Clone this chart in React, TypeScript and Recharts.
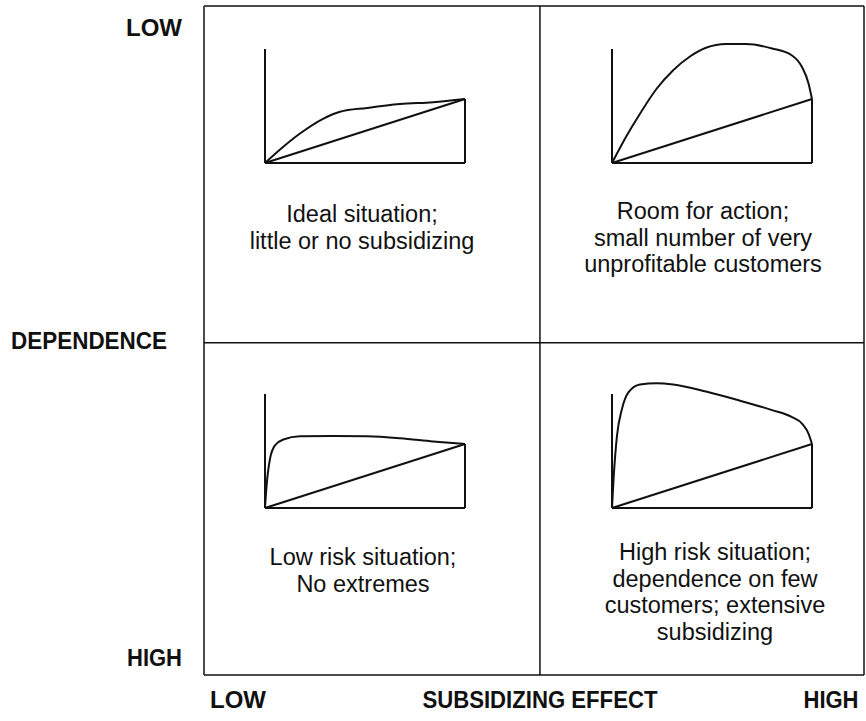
import React from 'react';
import { LineChart, Line, XAxis, YAxis, ReferenceLine } from 'recharts';

// Stobachoff-type curves, x = % of customers, y = % of total profit (end = 100)
const idealX = [0, 9, 17.5, 29, 37.5, 51, 67.5, 84, 100];
const idealY = [0, 25, 46, 69, 80, 86, 92, 95, 100];

const actionX = [0, 7.4, 14, 22.3, 30.6, 38.8, 47, 57, 67, 80, 90, 95, 98.3, 100];
const actionY = [0, 43, 77, 116, 145, 166, 180, 186, 186, 179, 168, 150, 124, 100];

const lowRiskX = [0, 0.8, 2.5, 5, 9.2, 17.5, 34, 51, 67.5, 84, 100];
const lowRiskY = [0, 35, 77, 98, 107, 112, 112.5, 112, 109, 104, 100];

const highRiskX = [0, 0.8, 2.5, 5, 8.3, 14, 22.3, 30.6, 47, 63.6, 80, 90, 95, 98.3, 100];
const highRiskY = [0, 46, 113, 155, 181, 193, 195, 193, 182, 168, 153, 142, 132, 116, 100];

// straight reference line (revenue)
const diagX = [0, 100];
const diagY = [0, 100];

const idealText = ['Ideal situation;', 'little or no subsidizing'];
const actionText = ['Room for action;', 'small number of very', 'unprofitable customers'];
const lowRiskText = ['Low risk situation;', 'No extremes'];
const highRiskText = ['High risk situation;', 'dependence on few', 'customers; extensive', 'subsidizing'];

const dependenceLabels = ['HIGH', 'DEPENDENCE', 'LOW'];
const dependenceValues = [0.051, 1, 1.937];
const subsidizingLabels = ['LOW', 'SUBSIDIZING EFFECT', 'HIGH'];
const subsidizingValues = [0.103, 1.018, 1.9];

// quadrant dividers (the matrix is slightly off-centre in the original)
const dividerX = 1.018;
const dividerY = 0.993;

const INK = '#111';
const FONT = '"Liberation Sans", Arial, sans-serif';

// text widths to mimic the squeezed lettering of the original
const labelWidth: Record<string, number> = {
  LOW: 56,
  DEPENDENCE: 156,
  HIGH: 55,
  'SUBSIDIZING EFFECT': 235,
};

function DepTick(props: any) {
  const { x, y, index } = props;
  const text = dependenceLabels[index];
  const right = text === 'DEPENDENCE' ? x - 29 : x - 14;
  return (
    <text x={right} y={y} dy="0.355em" textAnchor="end" fontFamily={FONT} fontWeight="bold"
      fontSize={24} fill={INK} textLength={labelWidth[text]} lengthAdjust="spacingAndGlyphs">
      {text}
    </text>
  );
}

function SubTick(props: any) {
  const { x, y, index } = props;
  const text = subsidizingLabels[index];
  return (
    <text x={x} y={y + 25} textAnchor="middle" fontFamily={FONT} fontWeight="bold"
      fontSize={24} fill={INK} textLength={labelWidth[text]} lengthAdjust="spacingAndGlyphs">
      {text}
    </text>
  );
}

function MiniChart({ xs, ys, left, top }: { xs: number[]; ys: number[]; left: number; top: number }) {
  const curve = xs.map((x, i) => ({ x, y: ys[i] }));
  const diag = diagX.map((x, i) => ({ x, y: diagY[i] }));
  return (
    <div style={{ position: 'absolute', left, top }}>
      <LineChart width={220} height={140} margin={{ top: 6, right: 10, bottom: 6, left: 10 }}>
        <XAxis type="number" dataKey="x" domain={[0, 100]} hide />
        <YAxis type="number" domain={[0, 200]} hide />
        <ReferenceLine segment={[{ x: 0, y: 0 }, { x: 0, y: 178 }]} stroke={INK} strokeWidth={2} />
        <ReferenceLine segment={[{ x: 0, y: 0 }, { x: 100, y: 0 }]} stroke={INK} strokeWidth={2} />
        <ReferenceLine segment={[{ x: 100, y: 0 }, { x: 100, y: 100 }]} stroke={INK} strokeWidth={2} />
        <Line data={diag} dataKey="y" type="linear" stroke={INK} strokeWidth={2} dot={false} isAnimationActive={false} />
        <Line data={curve} dataKey="y" type="monotone" stroke={INK} strokeWidth={2} dot={false} isAnimationActive={false} />
      </LineChart>
    </div>
  );
}

function Caption({ lines, cx, cy }: { lines: string[]; cx: number; cy: number }) {
  return (
    <div style={{
      position: 'absolute', left: cx - 170, top: cy - 14, width: 340, textAlign: 'center',
      fontFamily: FONT, fontSize: 23.5, lineHeight: '26.5px', color: INK,
    }}>
      {lines.map((l) => <div key={l}>{l}</div>)}
    </div>
  );
}

export default function App() {
  // positions of the axis captions inside the 2 x 2 matrix
  const frameData = subsidizingValues.map((x, i) => ({ x, y: dependenceValues[i] }));
  return (
    <div style={{ position: 'absolute', left: 0, top: 0, width: 866, height: 721, background: '#fff' }}>
      <LineChart width={866} height={721} data={frameData} margin={{ top: 6, right: 2, bottom: 16, left: 0 }}>
        <XAxis type="number" dataKey="x" domain={[0, 2]} ticks={subsidizingValues} axisLine={false} tickLine={false}
          height={30} tick={<SubTick />} interval={0} />
        <YAxis type="number" dataKey="y" domain={[0, 2]} ticks={dependenceValues} axisLine={false} tickLine={false}
          width={204} tick={<DepTick />} interval={0} />
        <ReferenceLine x={0} stroke={INK} strokeWidth={1.5} />
        <ReferenceLine x={dividerX} stroke={INK} strokeWidth={1.5} />
        <ReferenceLine x={2} stroke={INK} strokeWidth={1.5} />
        <ReferenceLine y={0} stroke={INK} strokeWidth={1.5} />
        <ReferenceLine y={dividerY} stroke={INK} strokeWidth={1.5} />
        <ReferenceLine y={2} stroke={INK} strokeWidth={1.5} />
        <Line dataKey="y" stroke="none" dot={false} activeDot={false} legendType="none" isAnimationActive={false} />
      </LineChart>
      <MiniChart xs={idealX} ys={idealY} left={255} top={29} />
      <MiniChart xs={actionX} ys={actionY} left={602} top={29} />
      <MiniChart xs={lowRiskX} ys={lowRiskY} left={255} top={374} />
      <MiniChart xs={highRiskX} ys={highRiskY} left={602} top={374} />
      <Caption lines={idealText} cx={362} cy={215} />
      <Caption lines={actionText} cx={703} cy={212} />
      <Caption lines={lowRiskText} cx={363} cy={558} />
      <Caption lines={highRiskText} cx={715} cy={553} />
    </div>
  );
}
